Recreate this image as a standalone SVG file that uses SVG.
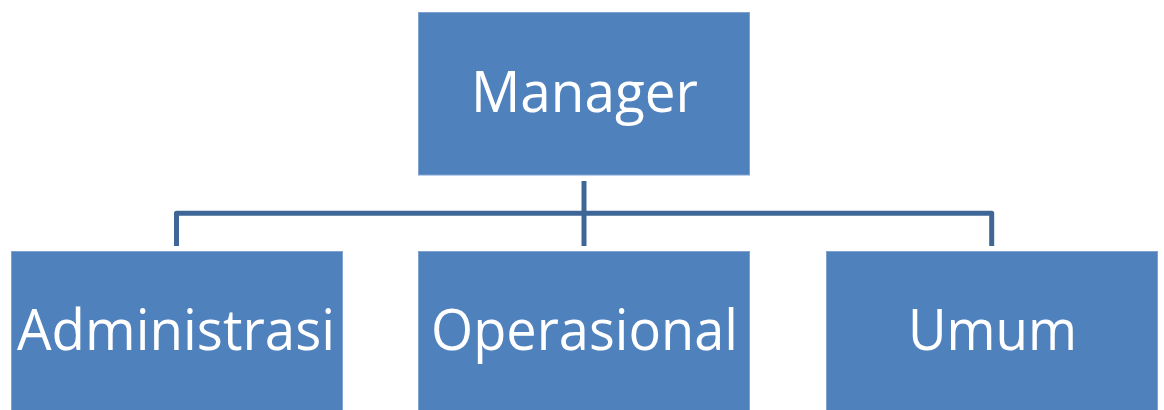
<svg xmlns="http://www.w3.org/2000/svg" width="1164" height="410" viewBox="0 0 1164 410">
<style>
.box{fill:#4F81BD;stroke:#7FA2D2;stroke-width:1}
.lbl{font-family:"Open Sans","Liberation Sans",sans-serif;font-size:56px;fill:#FFFFFF;text-anchor:middle}
.conn{fill:none;stroke:#3E6797;stroke-width:5;stroke-linejoin:round}
</style>
<rect width="1164" height="410" fill="#FFFFFF"/>
<g id="connectors">
<path class="conn" d="M584,181 V246"/>
<path class="conn" d="M176.5,246 V213.3 H991.7 V246"/>
</g>
<g id="manager">
<rect class="box" x="418.5" y="12.5" width="331" height="162.5"/>
<text class="lbl" x="584.5" y="112" textLength="227" lengthAdjust="spacingAndGlyphs">Manager</text>
</g>
<g id="administrasi">
<rect class="box" x="11.5" y="251.5" width="331" height="162"/>
<text class="lbl" x="176" y="350" textLength="318" lengthAdjust="spacingAndGlyphs">Administrasi</text>
</g>
<g id="operasional">
<rect class="box" x="418.5" y="251.5" width="331" height="162"/>
<text class="lbl" x="584.5" y="350" textLength="307" lengthAdjust="spacingAndGlyphs">Operasional</text>
</g>
<g id="umum">
<rect class="box" x="826.5" y="251.5" width="331" height="162"/>
<text class="lbl" x="992.5" y="350" textLength="169" lengthAdjust="spacingAndGlyphs">Umum</text>
</g>
</svg>
